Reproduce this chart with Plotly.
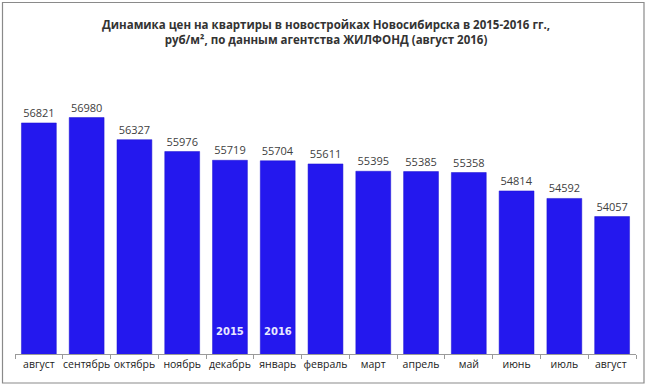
import plotly.graph_objects as go

months = ["август", "сентябрь", "октябрь", "ноябрь", "декабрь", "январь", "февраль",
          "март", "апрель", "май", "июнь", "июль", "август "]
prices = [56821, 56980, 56327, 55976, 55719, 55704, 55611, 55395, 55385, 55358, 54814, 54592, 54057]
year_marks = {"декабрь": "2015", "январь": "2016"}

W, H = 649, 387
ml, mr, mt, mb = 15, 13, 83, 33
pw, ph = W - ml - mr, H - mt - mb

fig = go.Figure(go.Bar(
    x=months, y=prices,
    marker=dict(color="#2418ee", line=dict(color="#1a10d0", width=0.5)),
    width=0.73,
    text=[str(v) for v in prices], textposition="outside",
    textfont=dict(family="Open Sans", size=11, color="#404040"),
    cliponaxis=False,
))

for m, y in year_marks.items():
    fig.add_annotation(x=m, y=50650, text=f"<b>{y}</b>", showarrow=False,
                       font=dict(family="DejaVu Sans", size=10, color="#e8e8ff"))

fig.add_annotation(xref="paper", yref="paper", x=0.5, y=1 + (mt - 32) / ph,
                   yanchor="middle",
                   text="<b>Динамика цен на квартиры в новостройках Новосибирска в 2015-2016 гг.,<br>руб/м², по данным агентства ЖИЛФОНД (август 2016)</b>",
                   showarrow=False, align="center",
                   font=dict(family="Open Sans", size=11.5, color="#333333"))

# outer frame
fig.add_shape(type="rect", xref="paper", yref="paper",
              x0=(2.5 - ml) / pw, x1=(644 - ml) / pw,
              y0=-(383 - (H - mb)) / ph, y1=1 + (mt - 2.5) / ph,
              line=dict(color="#8a8a8a", width=1.2), fillcolor="rgba(0,0,0,0)")

fig.update_layout(
    width=W, height=H,
    margin=dict(l=ml, r=mr, t=mt, b=mb, autoexpand=False),
    paper_bgcolor="white", plot_bgcolor="white",
    showlegend=False, bargap=0.27,
    xaxis=dict(showline=True, linecolor="#9a9a9a", linewidth=1,
               ticks="outside", tickson="boundaries", ticklen=4, tickcolor="#9a9a9a",
               tickangle=0, automargin=False,
               tickfont=dict(family="Open Sans", size=10.5, color="#222222"),
               showgrid=False),
    yaxis=dict(range=[50000, 58000], visible=False, showgrid=False, automargin=False),
)

fig.write_html("out.html", config={"displayModeBar": False},
               post_script="document.body.style.margin='0';document.body.style.overflow='hidden';")
